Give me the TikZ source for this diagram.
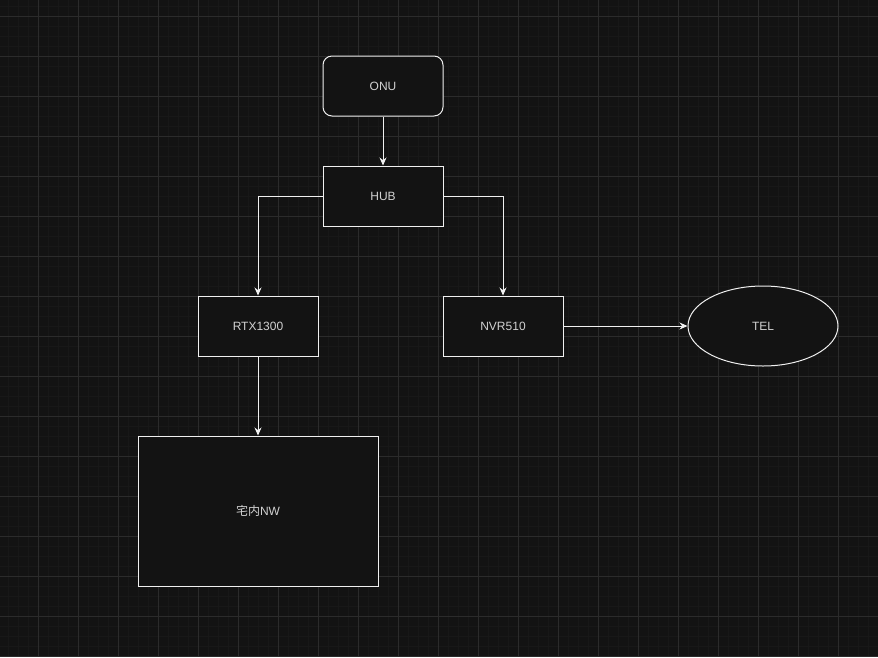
\documentclass[tikz,border=0pt]{standalone}
\usepackage{fontspec}
\setmainfont{Liberation Sans}
\newfontfamily\cjk{Noto Sans CJK JP}
\usepackage{tikz}
\usetikzlibrary{arrows.meta,positioning,calc,shapes.geometric}

\definecolor{bgdark}{HTML}{131313}
\definecolor{gridminor}{HTML}{181818}
\definecolor{gridmajor}{HTML}{2B2B2B}
\definecolor{linewhite}{HTML}{F0F0F0}
\definecolor{txtgray}{HTML}{D2D2D2}

\begin{document}
\begin{tikzpicture}[x=1pt,y=-1pt,
          box/.style={draw=linewhite, fill=bgdark, line width=1pt, minimum width=120pt, minimum height=60pt, inner sep=0pt, text=txtgray, font=\fontsize{12}{14}\selectfont},
          roundbox/.style={box, rounded corners=9pt},
          oval/.style={box, ellipse, minimum width=150pt, minimum height=80pt},
          bigbox/.style={box, minimum width=240pt, minimum height=150pt},
          link/.style={linewhite, line width=1pt, -{Stealth[length=8pt,width=7pt]}}
        ]
          % Hintergrund
          \useasboundingbox (0,0) rectangle (878,657);
          \fill[bgdark] (0,0) rectangle (878,657);

          % Raster
          \foreach \x in {8,18,...,878} \draw[gridminor, line width=0.8pt] (\x,0) -- (\x,657);
          \foreach \y in {6,16,...,657} \draw[gridminor, line width=0.8pt] (0,\y) -- (878,\y);
          \foreach \x in {38,78,...,878} \draw[gridmajor, line width=1pt] (\x,0) -- (\x,657);
          \foreach \y in {16,56,...,657} \draw[gridmajor, line width=1pt] (0,\y) -- (878,\y);

          % Knoten
          \node[roundbox] (onu) at (383,86) {ONU};
          \node[box] (hub) at (383,196) {HUB};
          \node[box] (rtx) at (258,326) {RTX1300};
          \node[box] (nvr) at (503,326) {NVR510};
          \node[oval] (tel) at (763,326) {TEL};
          \node[bigbox] (lan) at (258,511) {{\cjk 宅内}NW};

          % Verbindungen
          \draw[link] (onu) -- (hub);
          \draw[link] (hub.west) -| (rtx.north);
          \draw[link] (hub.east) -| (nvr.north);
          \draw[link] (nvr) -- (tel);
          \draw[link] (rtx) -- (lan);
        \end{tikzpicture}
\end{document}
